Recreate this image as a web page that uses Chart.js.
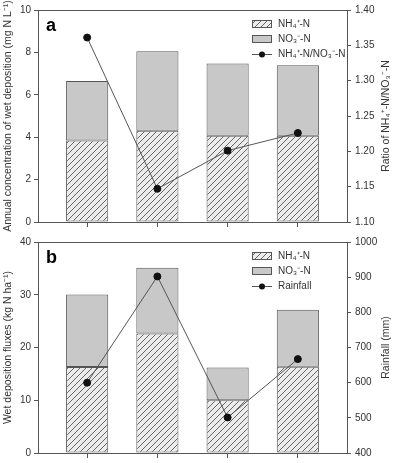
<!DOCTYPE html>
<html>
<head>
  <script src="https://cdn.jsdelivr.net/npm/chart.js"></script>
  <style>
    body { margin: 0; background: #fff; }
    #wrap { position: relative; width: 394px; height: 463px; }
    canvas { position: absolute; left: 0; }
  </style>
</head>
<body>
<div id="wrap">
  <canvas id="chartA" width="394" height="232" style="top:0"></canvas>
  <canvas id="chartB" width="394" height="231" style="top:232px"></canvas>
</div>
<script>
// four sampling sites, no x labels in the figure
const sites = [1, 2, 3, 4];

// panel a: annual concentration (mg N L-1) and ratio
const concNH4 = [3.85, 4.31, 4.07, 4.07];
const concNO3 = [2.80, 3.75, 3.41, 3.32];
const ratio = [1.361, 1.147, 1.201, 1.226];

// panel b: wet deposition fluxes (kg N ha-1) and rainfall (mm)
const fluxNH4 = [16.3, 22.65, 10.0, 16.35];
const fluxNO3 = [13.75, 12.45, 6.2, 10.8];
const rainfall = [600, 902, 501, 667];

const FONT = "'Liberation Sans', Arial, sans-serif";
const AXIS = '#555';
const TEXT = '#333';

function hatch(ctx) {
  const c = document.createElement('canvas');
  c.width = 6; c.height = 6;
  const g = c.getContext('2d');
  g.fillStyle = '#ececec';
  g.fillRect(0, 0, 6, 6);
  g.strokeStyle = '#444';
  g.lineWidth = 0.8;
  g.beginPath();
  g.moveTo(0, 6); g.lineTo(6, 0);
  g.moveTo(-1, 1); g.lineTo(1, -1);
  g.moveTo(5, 7); g.lineTo(7, 5);
  g.stroke();
  return ctx.createPattern(c, 'repeat');
}

const panelPlugin = {
  id: 'panel',
  afterDatasetsDraw(chart, args, o) {
    const ctx = chart.ctx, a = chart.chartArea;
    ctx.save();
    // top frame line
    ctx.strokeStyle = AXIS;
    ctx.lineWidth = 1;
    ctx.beginPath();
    ctx.moveTo(a.left, a.top + 0.5);
    ctx.lineTo(a.right, a.top + 0.5);
    ctx.stroke();

    // panel letter
    ctx.fillStyle = '#000';
    ctx.font = 'bold 18px ' + FONT;
    ctx.textBaseline = 'alphabetic';
    ctx.fillText(o.letter, a.left + 8, a.top + 21);

    // legend
    const bx = a.left + 214, tx = a.left + 240;
    ctx.font = '10px ' + FONT;
    ctx.textBaseline = 'middle';
    o.legend.forEach((item, i) => {
      const y = a.top + 14 + i * 15;
      ctx.strokeStyle = AXIS;
      ctx.lineWidth = 1;
      if (item.kind === 'line') {
        ctx.beginPath();
        ctx.moveTo(bx, y + 0.5);
        ctx.lineTo(bx + 20, y + 0.5);
        ctx.stroke();
        ctx.fillStyle = '#111';
        ctx.beginPath();
        ctx.arc(bx + 10, y + 0.5, 3, 0, Math.PI * 2);
        ctx.fill();
      } else {
        ctx.fillStyle = item.fill;
        ctx.fillRect(bx, y - 3.5, 20, 7);
        ctx.strokeRect(bx + 0.5, y - 3.5, 19, 7);
      }
      ctx.fillStyle = TEXT;
      ctx.fillText(item.text, tx, y);
    });

    // axis titles, both read bottom to top
    const cy = (a.top + a.bottom) / 2;
    ctx.font = '10.5px ' + FONT;
    ctx.textAlign = 'center';
    [[8, o.leftTitle], [386, o.rightTitle]].forEach(([x, t]) => {
      ctx.save();
      ctx.translate(x, cy);
      ctx.rotate(-Math.PI / 2);
      ctx.fillText(t, 0, 0);
      ctx.restore();
    });
    ctx.restore();
  }
};

function makePanel(id, p) {
  const ctx = document.getElementById(id).getContext('2d');
  const hatched = hatch(ctx);
  const tickFont = { family: FONT, size: 10 };
  new Chart(ctx, {
    type: 'bar',
    data: {
      labels: sites,
      datasets: [
        { label: 'NH₄⁺-N', data: p.nh4, backgroundColor: hatched, borderColor: AXIS,
          borderWidth: 1, borderSkipped: false, order: 1 },
        { label: 'NO₃⁻-N', data: p.no3, backgroundColor: '#c8c8c8', borderColor: AXIS,
          borderWidth: 1, borderSkipped: false, order: 1 },
        { type: 'line', label: p.lineLabel, data: p.line, yAxisID: 'y2', order: 0,
          borderColor: '#555', borderWidth: 1, pointRadius: 3.5,
          pointBackgroundColor: '#111', pointBorderColor: '#111' }
      ]
    },
    options: {
      responsive: false,
      animation: false,
      layout: { padding: { top: 4, left: 0, right: 0, bottom: 0 } },
      datasets: { bar: { barPercentage: 0.6, categoryPercentage: 1 } },
      plugins: {
        legend: { display: false },
        tooltip: { enabled: false },
        panel: {
          letter: p.letter,
          leftTitle: p.leftTitle,
          rightTitle: p.rightTitle,
          legend: [
            { text: 'NH₄⁺-N', fill: hatched },
            { text: 'NO₃⁻-N', fill: '#c8c8c8' },
            { text: p.lineLabel, kind: 'line' }
          ]
        }
      },
      scales: {
        x: {
          type: 'linear', stacked: true, min: 0.3, max: 4.7, offset: false,
          afterFit: s => { s.height = 6; },
          ticks: { stepSize: 1, includeBounds: false, autoSkip: false, callback: () => '' },
          grid: { drawOnChartArea: false, offset: false, tickLength: 5, color: AXIS },
          border: { color: AXIS }
        },
        y: {
          position: 'left', stacked: true, min: p.yMin, max: p.yMax,
          afterFit: s => { s.width = 38; },
          ticks: { stepSize: p.yStep, font: tickFont, color: TEXT, padding: 3 },
          grid: { drawOnChartArea: false, tickLength: 4, color: AXIS },
          border: { color: AXIS }
        },
        y2: {
          position: 'right', min: p.y2Min, max: p.y2Max,
          afterFit: s => { s.width = 47; },
          ticks: { stepSize: p.y2Step, font: tickFont, color: TEXT, padding: 4,
                   callback: v => v.toFixed(p.y2Digits) },
          grid: { drawOnChartArea: false, tickLength: 4, color: AXIS },
          border: { color: AXIS }
        }
      }
    },
    plugins: [panelPlugin]
  });
}

makePanel('chartA', {
  letter: 'a', nh4: concNH4, no3: concNO3, line: ratio,
  lineLabel: 'NH₄⁺-N/NO₃⁻-N',
  leftTitle: 'Annual concentration of wet deposition (mg N L⁻¹)',
  rightTitle: 'Ratio of NH₄⁺-N/NO₃⁻-N',
  yMin: 0, yMax: 10, yStep: 2,
  y2Min: 1.10, y2Max: 1.40, y2Step: 0.05, y2Digits: 2
});

makePanel('chartB', {
  letter: 'b', nh4: fluxNH4, no3: fluxNO3, line: rainfall,
  lineLabel: 'Rainfall',
  leftTitle: 'Wet deposition fluxes (kg N ha⁻¹)',
  rightTitle: 'Rainfall (mm)',
  yMin: 0, yMax: 40, yStep: 10,
  y2Min: 400, y2Max: 1000, y2Step: 100, y2Digits: 0
});
</script>
</body>
</html>
